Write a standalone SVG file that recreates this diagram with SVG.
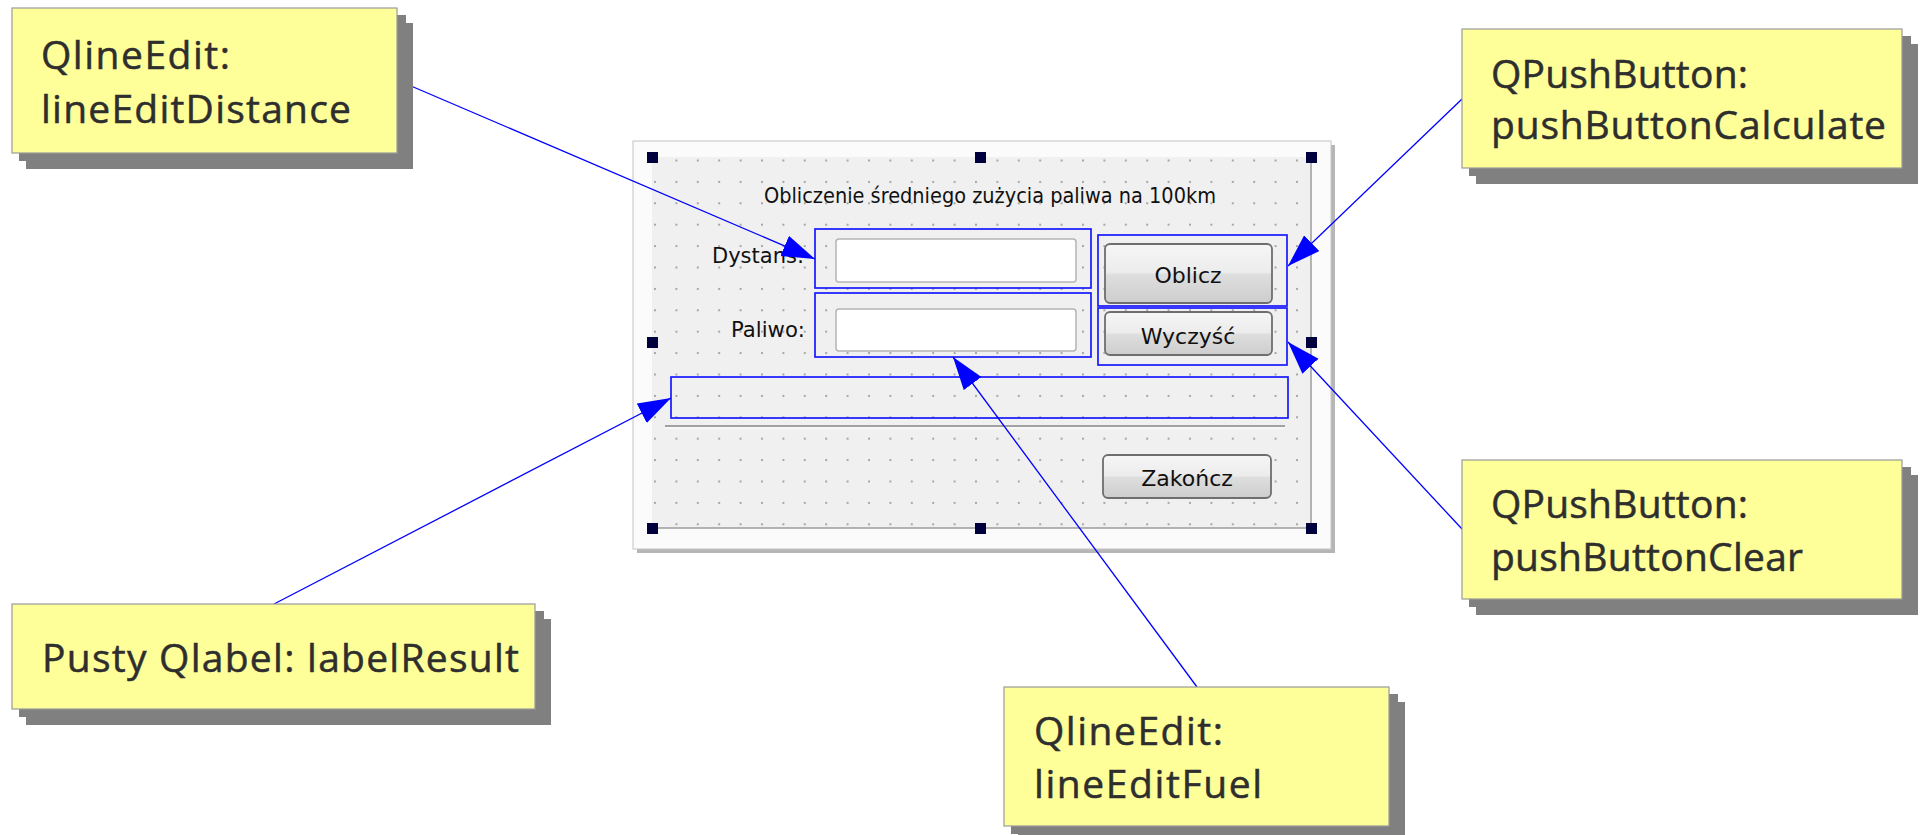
<svg xmlns="http://www.w3.org/2000/svg" width="1920" height="835" viewBox="0 0 1920 835">
  <defs>
    <style>
      .bg{fill:#ffff99;stroke:#9a9a9a;stroke-width:1.2}
      .shadow{fill:#808080}
      .note text{font-family:"Open Sans","DejaVu Sans",sans-serif;font-size:39px;fill:#2e2e2e;stroke:#2e2e2e;stroke-width:0.5}
      .ui{font-family:"DejaVu Sans","Liberation Sans",sans-serif;font-size:22px;fill:#101010}
      .sel{fill:none;stroke:#1818ff;stroke-width:1.7}
      .handle{fill:#00003c}
      .edit{fill:#ffffff;stroke:#b4b4b4;stroke-width:1.5}
      .btn{fill:url(#btnFill);stroke:#6e6e6e;stroke-width:1.8}
      .conn{stroke:#0000ff;stroke-width:1.3;fill:none;marker-end:url(#arrow)}
    </style>
    <marker id="arrow" markerUnits="userSpaceOnUse" markerWidth="34" markerHeight="24" refX="33" refY="11" orient="auto">
      <path d="M0,0 L33,11 L0,22 z" fill="#0000ff"/>
    </marker>
    <pattern id="grid" x="654" y="159.5" width="21.4" height="21.4" patternUnits="userSpaceOnUse">
      <rect width="2" height="2" fill="#a6a6a6"/>
    </pattern>
    <linearGradient id="btnFill" x1="0" y1="0" x2="0" y2="1">
      <stop offset="0" stop-color="#f6f6f6"/>
      <stop offset="0.48" stop-color="#ececec"/>
      <stop offset="0.52" stop-color="#dedede"/>
      <stop offset="1" stop-color="#cdcdcd"/>
    </linearGradient>
  </defs>

  <rect width="1920" height="835" fill="#ffffff"/>

  <!-- Qt Designer form: fuel consumption calculator -->
  <g id="form-screenshot">
    <rect x="637" y="145" width="698" height="408" fill="#b6b6b6"/>
    <rect x="633" y="141" width="698" height="408" fill="#fbfbfb" stroke="#c4c4c4" stroke-width="1"/>
    <rect x="652" y="157" width="659" height="371" fill="#f0f0f0"/>
    <rect x="652" y="157" width="659" height="371" fill="url(#grid)"/>
    <line x1="1311" y1="157" x2="1311" y2="528" stroke="#9c9c9c" stroke-width="1.5"/>
    <line x1="652" y1="528" x2="1311" y2="528" stroke="#9c9c9c" stroke-width="1.5"/>

    <text class="ui" x="764" y="203" textLength="452" lengthAdjust="spacingAndGlyphs">Obliczenie średniego zużycia paliwa na 100km</text>
    <text class="ui" x="712" y="263" textLength="92" lengthAdjust="spacingAndGlyphs">Dystans:</text>
    <text class="ui" x="731" y="337" textLength="74" lengthAdjust="spacingAndGlyphs">Paliwo:</text>

    <rect class="edit" x="836" y="239" width="240" height="43" rx="3"/>
    <rect class="edit" x="836" y="309" width="240" height="42" rx="3"/>

    <rect class="btn" x="1105" y="244" width="167" height="59" rx="5"/>
    <text class="ui" x="1188" y="283" text-anchor="middle">Oblicz</text>
    <rect class="btn" x="1105" y="312" width="167" height="43" rx="5"/>
    <text class="ui" x="1188" y="344" text-anchor="middle">Wyczyść</text>

    <line x1="665" y1="426" x2="1285" y2="426" stroke="#a2a2a2" stroke-width="2"/>
    <line x1="665" y1="428" x2="1285" y2="428" stroke="#ffffff" stroke-width="1"/>

    <rect class="btn" x="1103" y="455" width="168" height="43" rx="5"/>
    <text class="ui" x="1187" y="486" text-anchor="middle">Zakończ</text>

    <!-- widget selection frames -->
    <rect class="sel" x="815" y="229" width="276" height="59"/>
    <rect class="sel" x="815" y="293" width="276" height="64"/>
    <rect class="sel" x="1098" y="235" width="189" height="71"/>
    <rect class="sel" x="1098" y="308" width="189" height="57"/>
    <rect class="sel" x="671" y="377" width="617" height="41"/>

    <!-- resize handles -->
    <rect class="handle" x="647" y="152" width="11" height="11"/>
    <rect class="handle" x="975" y="152" width="11" height="11"/>
    <rect class="handle" x="1306" y="152" width="11" height="11"/>
    <rect class="handle" x="647" y="337" width="11" height="11"/>
    <rect class="handle" x="1306" y="337" width="11" height="11"/>
    <rect class="handle" x="647" y="523" width="11" height="11"/>
    <rect class="handle" x="975" y="523" width="11" height="11"/>
    <rect class="handle" x="1306" y="523" width="11" height="11"/>
  </g>

  <g id="connectors">
    <line class="conn" x1="397" y1="80" x2="815" y2="259"/>
    <line class="conn" x1="1462" y1="99" x2="1288" y2="266"/>
    <line class="conn" x1="1462" y1="529" x2="1288" y2="342"/>
    <line class="conn" x1="274" y1="604" x2="671" y2="398"/>
    <line class="conn" x1="1197" y1="687" x2="953" y2="357"/>
  </g>

  <g id="note-lineEditDistance" class="note">
    <rect class="shadow" x="19" y="15" width="387" height="146"/>
    <rect class="shadow" x="26" y="23" width="387" height="146"/>
    <rect class="bg" x="12" y="8" width="385" height="145"/>
    <text x="41" y="69" textLength="189">QlineEdit:</text>
    <text x="41" y="123" textLength="310">lineEditDistance</text>
  </g>

  <g id="note-pushButtonCalculate" class="note">
    <rect class="shadow" x="1469" y="36" width="442" height="140"/>
    <rect class="shadow" x="1476" y="44" width="442" height="140"/>
    <rect class="bg" x="1462" y="29" width="440" height="139"/>
    <text x="1491" y="88" textLength="257">QPushButton:</text>
    <text x="1491" y="139" textLength="395">pushButtonCalculate</text>
  </g>

  <g id="note-pushButtonClear" class="note">
    <rect class="shadow" x="1469" y="467" width="442" height="140"/>
    <rect class="shadow" x="1476" y="475" width="442" height="140"/>
    <rect class="bg" x="1462" y="460" width="440" height="139"/>
    <text x="1491" y="518" textLength="257">QPushButton:</text>
    <text x="1491" y="571" textLength="312">pushButtonClear</text>
  </g>

  <g id="note-labelResult" class="note">
    <rect class="shadow" x="19" y="611" width="525" height="106"/>
    <rect class="shadow" x="26" y="619" width="525" height="106"/>
    <rect class="bg" x="12" y="604" width="523" height="105"/>
    <text x="42" y="672" textLength="477">Pusty Qlabel: labelResult</text>
  </g>

  <g id="note-lineEditFuel" class="note">
    <rect class="shadow" x="1011" y="694" width="387" height="140"/>
    <rect class="shadow" x="1018" y="702" width="387" height="140"/>
    <rect class="bg" x="1004" y="687" width="385" height="139"/>
    <text x="1034" y="745" textLength="189">QlineEdit:</text>
    <text x="1034" y="798" textLength="228">lineEditFuel</text>
  </g>
</svg>
